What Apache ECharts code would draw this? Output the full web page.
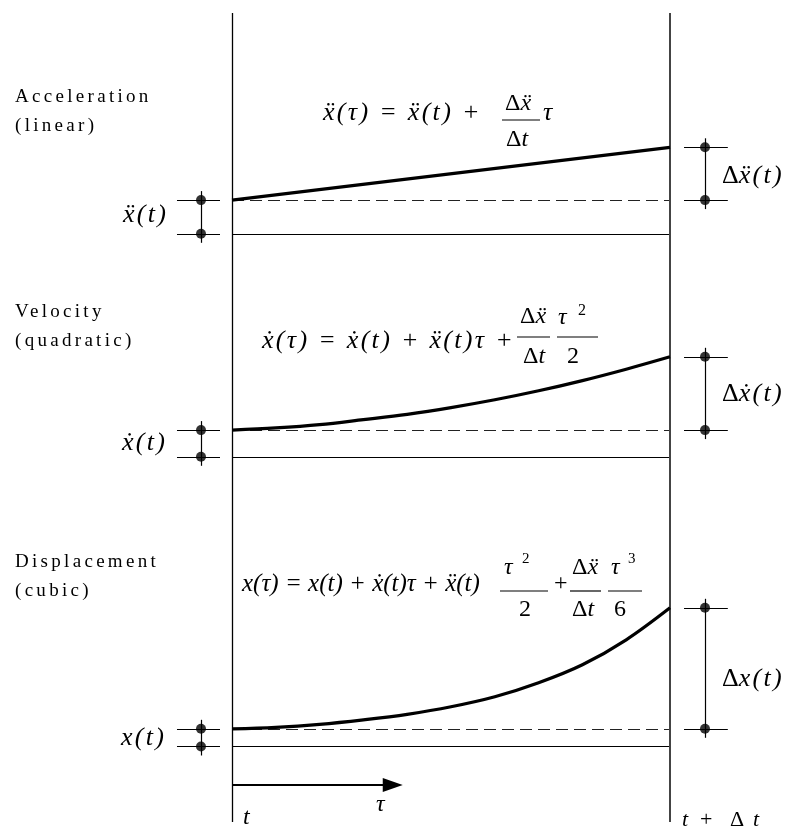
<!DOCTYPE html>
<html><head><meta charset="utf-8">
<script src="https://cdn.jsdelivr.net/npm/echarts@6/dist/echarts.min.js"></script>
<style>html,body{margin:0;padding:0;background:#fff}#c{width:788px;height:833px}</style>
</head><body><div id="c"></div>
<script>
// ---------------- data (tau in units of Δt, values in panel units) ----------------
const accelTau = [0, 1];
const accelVal = [3.37, 8.65];
const velTau = [0, 0.1, 0.2, 0.3, 0.4, 0.5, 0.6, 0.7, 0.8, 0.9, 1];
const velVal = [2.67, 2.89, 3.22, 3.72, 4.25, 4.92, 5.70, 6.60, 7.62, 8.76, 10.0];
const dispTau = [0, 0.1, 0.2, 0.3, 0.4, 0.5, 0.6, 0.7, 0.8, 0.9, 1];
const dispVal = [1.77, 1.92, 2.22, 2.67, 3.22, 3.97, 4.97, 6.37, 8.17, 10.67, 13.87];
const boundaryTau = [0, 1];          // t and t + Δt
const arrowTau = [0, 0.367];         // τ arrow (shaft end, head drawn beyond)
const panelTitles = [['Acceleration', '(linear)'], ['Velocity', '(quadratic)'], ['Displacement', '(cubic)']];

// ---------------- layout ----------------
const PANEL_BASE = [51.27, 28.97, 0];
const BR = { left: -0.0708, leftTick: [-0.1256, -0.0274], right: 1.0799, rightTick: [1.032, 1.132], over: 0.9 };
const FRAME_Y = [73.35, -7.55];
const ARROW_Y = -3.85;

// letter spacing keyed by font size
const SPACING = { '19px': 3.3, '26px': 2.3 };
(function () {
  const proto = CanvasRenderingContext2D.prototype;
  const orig = proto.fillText;
  proto.fillText = function (t, x, y, mw) {
    const m = /(\d+(?:\.\d+)?)px/.exec(this.font || '');
    const s = m ? SPACING[m[1] + 'px'] : 0;
    try { this.letterSpacing = s ? s + 'px' : '0px'; } catch (e) {}
    return mw === undefined ? orig.call(this, t, x, y) : orig.call(this, t, x, y, mw);
  };
})();

const panels = [
  { tau: accelTau, val: accelVal },
  { tau: velTau, val: velVal },
  { tau: dispTau, val: dispVal }
];

const solidSegs = [], dashSegs = [], dots = [], series = [];
panels.forEach((p, i) => {
  const b = PANEL_BASE[i];
  const v0 = p.val[0] + b, v1 = p.val[p.val.length - 1] + b;
  solidSegs.push({ coords: [[boundaryTau[0], b], [boundaryTau[1], b]] });
  dashSegs.push({ coords: [[boundaryTau[0], v0], [boundaryTau[1], v0]] });
  // left bracket
  solidSegs.push({ coords: [[BR.left, v0 + BR.over], [BR.left, b - BR.over]] });
  solidSegs.push({ coords: [[BR.leftTick[0], b], [BR.leftTick[1], b]] });
  solidSegs.push({ coords: [[BR.leftTick[0], v0], [BR.leftTick[1], v0]] });
  dots.push([BR.left, b], [BR.left, v0]);
  // right bracket
  solidSegs.push({ coords: [[BR.right, v0 - BR.over], [BR.right, v1 + BR.over]] });
  solidSegs.push({ coords: [[BR.rightTick[0], v0], [BR.rightTick[1], v0]] });
  solidSegs.push({ coords: [[BR.rightTick[0], v1], [BR.rightTick[1], v1]] });
  dots.push([BR.right, v0], [BR.right, v1]);
  // curve
  series.push({
    type: 'line', data: p.tau.map((t, k) => [t, p.val[k] + b]), smooth: 0.35,
    symbol: 'none', lineStyle: { color: '#000', width: 3.2 }, z: 5, silent: true
  });
});

series.push({ type: 'lines', coordinateSystem: 'cartesian2d', polyline: false, data: solidSegs,
  lineStyle: { color: '#000', width: 1.2, opacity: 1, curveness: 0 }, silent: true, z: 3 });
series.push({ type: 'lines', coordinateSystem: 'cartesian2d', polyline: false, data: dashSegs,
  lineStyle: { color: '#222', width: 1, type: [12, 6], opacity: 1, curveness: 0 }, silent: true, z: 3 });
series.push({ type: 'lines', coordinateSystem: 'cartesian2d', polyline: false,
  data: [{ coords: [[boundaryTau[0], FRAME_Y[0]], [boundaryTau[0], FRAME_Y[1]]] }],
  lineStyle: { color: '#000', width: 1.3, opacity: 1 }, silent: true, z: 4 });
series.push({ type: 'lines', coordinateSystem: 'cartesian2d', polyline: false,
  data: [{ coords: [[boundaryTau[1], FRAME_Y[0]], [boundaryTau[1], FRAME_Y[1]]] }],
  lineStyle: { color: '#444', width: 2, opacity: 1 }, silent: true, z: 4 });
series.push({ type: 'scatter', data: dots, symbol: 'circle', symbolSize: 10,
  itemStyle: { color: '#000' }, silent: true, z: 6 });
series.push({ type: 'line', symbol: 'none', silent: true, z: 6,
  lineStyle: { color: '#000', width: 2 },
  data: [[arrowTau[0], ARROW_Y],
    { value: [arrowTau[1], ARROW_Y], symbol: 'triangle', symbolSize: [14, 20], symbolRotate: -90,
      itemStyle: { color: '#000' } }] });

// ---------------- text ----------------
const FF = 'Liberation Serif';
function T(x, y, text, size, italic) {
  return { type: 'text', x: x, y: y, z: 100, silent: true,
    style: { text: text, fontFamily: FF, fontSize: size, fontStyle: italic ? 'italic' : 'normal',
      fill: '#000', align: 'left', verticalAlign: 'middle' } };
}
function R(x, y, text, size) {
  return { type: 'text', x: x, y: y, z: 100, silent: true,
    style: { text: text, fontFamily: FF, fontSize: size, fill: '#000', align: 'left', verticalAlign: 'middle',
      rich: { r: { fontFamily: FF, fontSize: size, fontStyle: 'normal', fill: '#000' },
              i: { fontFamily: FF, fontSize: size, fontStyle: 'italic', fill: '#000' } } } };
}
function BAR(x1, x2, y) {
  return { type: 'line', z: 100, silent: true, shape: { x1: x1, y1: y, x2: x2, y2: y },
    style: { stroke: '#000', lineWidth: 1.2 } };
}
const titleY = [[97.5, 126.5], [312, 341], [562, 591]];
const graphic = [];
panelTitles.forEach((tt, i) => {
  graphic.push(T(15, titleY[i][0], tt[0], 19, false));
  graphic.push(T(15, titleY[i][1], tt[1], 19, false));
});
// equation 1
graphic.push(T(323, 113, 'ẍ(τ) = ẍ(t) +', 26, true));
graphic.push(R(505, 104, '{r|Δ}{i|ẍ}', 24));
graphic.push(BAR(502, 540, 120));
graphic.push(R(506, 140, '{r|Δ}{i|t}', 24));
graphic.push(T(543, 113, 'τ', 26, true));
// equation 2
graphic.push(T(262, 341, 'ẋ(τ) = ẋ(t) + ẍ(t)τ +', 26, true));
graphic.push(R(520, 317, '{r|Δ}{i|ẍ}', 24));
graphic.push(BAR(517, 550, 337));
graphic.push(R(523, 357, '{r|Δ}{i|t}', 24));
graphic.push(T(558, 318, 'τ', 24, true));
graphic.push(T(578, 311, '2', 16, false));
graphic.push(BAR(557, 598, 337));
graphic.push(T(567, 357, '2', 24, false));
// equation 3
graphic.push(T(242, 584, 'x(τ) = x(t) + ẋ(t)τ + ẍ(t)', 25, true));
graphic.push(T(504, 568, 'τ', 24, true));
graphic.push(T(522, 559, '2', 15, false));
graphic.push(BAR(500, 548, 591));
graphic.push(T(519, 610, '2', 24, false));
graphic.push(T(554, 584, '+', 24, false));
graphic.push(R(572, 568, '{r|Δ}{i|ẍ}', 24));
graphic.push(BAR(570, 601, 591));
graphic.push(R(572, 610, '{r|Δ}{i|t}', 24));
graphic.push(T(611, 568, 'τ', 24, true));
graphic.push(T(628, 559, '3', 15, false));
graphic.push(BAR(608, 642, 591));
graphic.push(T(614, 610, '6', 24, false));
// bracket labels
graphic.push(T(123, 215, 'ẍ(t)', 26, true));
graphic.push(T(122, 443, 'ẋ(t)', 26, true));
graphic.push(T(121, 738, 'x(t)', 26, true));
graphic.push(R(722, 176, '{r|Δ}{i|ẍ(t)}', 26));
graphic.push(R(722, 394, '{r|Δ}{i|ẋ(t)}', 26));
graphic.push(R(722, 679, '{r|Δ}{i|x(t)}', 26));
// time labels
graphic.push(T(243, 818, 't', 24, true));
graphic.push(T(376, 805, 'τ', 24, true));
graphic.push(T(682, 820, 't', 22, true));
graphic.push(T(700, 820, '+', 22, false));
graphic.push(T(730, 820, 'Δ', 22, false));
graphic.push(T(753, 820, 't', 22, true));

const chart = echarts.init(document.getElementById('c'), null, { renderer: 'canvas' });
chart.setOption({
  animation: false,
  backgroundColor: '#fff',
  grid: { left: 13, right: 8.5, top: 11.5, bottom: 1.5, containLabel: false },
  xAxis: { type: 'value', min: -0.5, max: 1.25, show: false, splitLine: { show: false } },
  yAxis: { type: 'value', min: -8.5, max: 73.5, show: false, splitLine: { show: false } },
  series: series,
  graphic: graphic
});
</script></body></html>
